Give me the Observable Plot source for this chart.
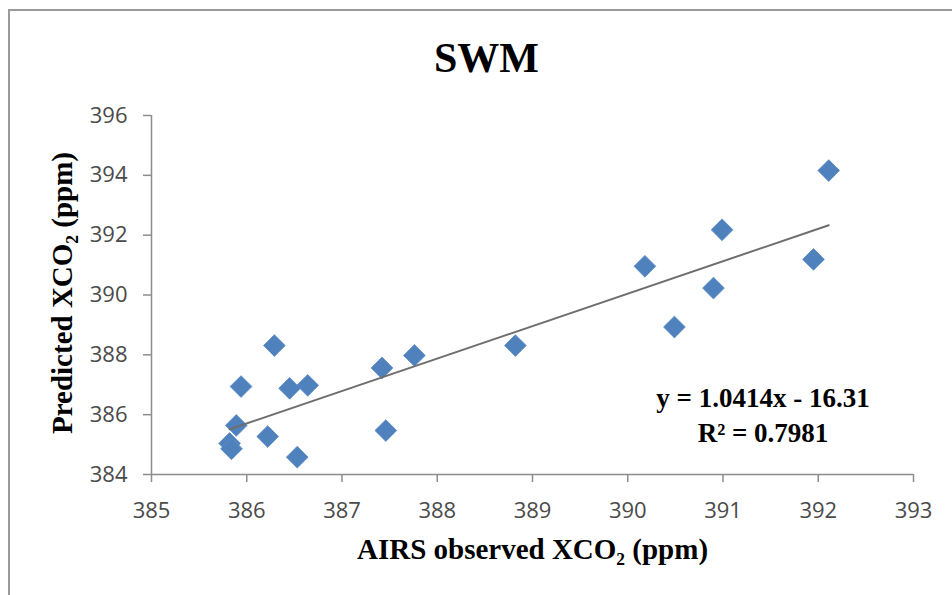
<!DOCTYPE html>
<html>
<head>
<meta charset="utf-8">
<script src="https://cdn.jsdelivr.net/npm/d3@7"></script>
<script src="https://cdn.jsdelivr.net/npm/@observablehq/plot@0.6"></script>
<style>
  html, body { margin: 0; padding: 0; background: #fff; }
  #wrap { position: relative; width: 952px; height: 595px; overflow: hidden; }
  #border { position: absolute; left: 8px; top: 9px; width: 1000px; height: 700px;
            border-top: 2px solid #9a9a9a; border-left: 2px solid #9a9a9a; pointer-events: none; }
</style>
</head>
<body>
<div id="wrap"><div id="border"></div></div>
<script>
// Data
const airsObserved = [385.82, 385.84, 385.89, 385.94, 386.22, 386.29, 386.45, 386.53, 386.64,
  387.42, 387.46, 387.76, 388.82, 390.18, 390.49, 390.90, 390.99, 391.95, 392.11];
const predicted = [385.04, 384.86, 385.64, 386.94, 385.27, 388.31, 386.88, 384.58, 386.98,
  387.56, 385.47, 387.98, 388.31, 390.96, 388.93, 390.23, 392.18, 391.19, 394.16];
const xTicks = [385, 386, 387, 388, 389, 390, 391, 392, 393];
const yTicks = [384, 386, 388, 390, 392, 394, 396];
const title = "SWM";
const xLabel = "AIRS observed XCO\u2082 (ppm)";
const yLabel = "Predicted XCO\u2082 (ppm)";
const eqLines = ["y = 1.0414x - 16.31", "R\u00B2 = 0.7981"];
const eqX = [391.42, 391.42];
const eqY = [386.27, 385.07];

const points = airsObserved.map((x, i) => ({x, y: predicted[i]}));
const eqData = eqLines.map((t, i) => ({t, x: eqX[i], y: eqY[i]}));

const serif = "'Liberation Serif', 'Times New Roman', serif";
const sans = "'Open Sans', 'Liberation Sans', sans-serif";

const chart = Plot.plot({
  width: 952,
  height: 595,
  marginLeft: 151,
  marginRight: 39,
  marginTop: 115,
  marginBottom: 121,
  style: {background: "transparent"},
  x: {domain: [385, 393]},
  y: {domain: [384, 396]},
  marks: [
    Plot.ruleX([385], {stroke: "#8c8c8c", strokeWidth: 1.5}),
    Plot.ruleY([384], {stroke: "#8c8c8c", strokeWidth: 1.5}),
    Plot.axisX(xTicks, {tickSize: 8, tickPadding: 20, fontSize: 22, fontFamily: sans,
      fill: "#4a4a4a", stroke: "#8c8c8c", strokeWidth: 1.5, label: null}),
    Plot.axisY(yTicks, {tickSize: 8, tickPadding: 16, fontSize: 22, fontFamily: sans,
      fill: "#4a4a4a", stroke: "#8c8c8c", strokeWidth: 1.5, label: null}),
    Plot.dot(points, {x: "x", y: "y", symbol: "diamond2", r: 9.8, fill: "#4f81bd", stroke: "#5b8cc8", strokeWidth: 0.8}),
    Plot.linearRegressionY(points, {x: "x", y: "y", ci: 0, stroke: "#6e6e6e", strokeWidth: 2}),
    Plot.text([title], {text: d => d, frameAnchor: "top", lineAnchor: "middle", dx: -46, dy: -57, fontSize: 42, fontWeight: "bold", fontFamily: serif, fill: "#000"}),
    Plot.text([xLabel], {text: d => d, frameAnchor: "bottom", lineAnchor: "middle", dy: 75, fontSize: 29, fontWeight: "bold", fontFamily: serif, fill: "#000"}),
    Plot.text([yLabel], {text: d => d, frameAnchor: "left", textAnchor: "middle", lineAnchor: "middle", dx: -89, dy: -2, rotate: -90, fontSize: 29, fontWeight: "bold", fontFamily: serif, fill: "#000"}),
    Plot.text(eqData, {x: "x", y: "y", text: "t", lineAnchor: "bottom", fontSize: 27, fontWeight: "bold", fontFamily: serif, fill: "#000"})
  ]
});
chart.style.position = "absolute";
chart.style.left = "0";
chart.style.top = "0";
document.getElementById("wrap").prepend(chart);
</script>
</body>
</html>
